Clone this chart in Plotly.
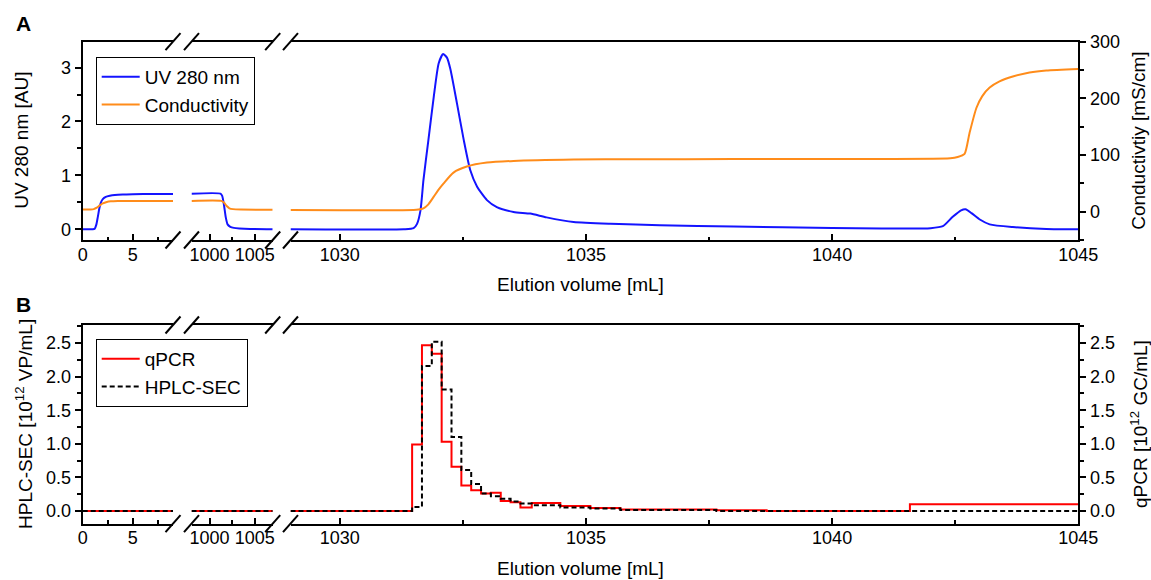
import plotly.graph_objects as go

W, H = 1151, 580

# ---------------- Panel A data ----------------
# segment 1 (0-9 mL)
uv_x1 = [0, 0.5, 1.0, 1.2, 1.35, 1.5, 1.65, 1.8, 2.0, 2.3, 2.7, 3.2, 4.0, 5.0, 7.0, 9.0]
uv_y1 = [0, 0, 0, 0.01, 0.08, 0.22, 0.38, 0.49, 0.56, 0.60, 0.62, 0.635, 0.645, 0.65, 0.655, 0.655]
cond_x1 = [0, 0.8, 1.1, 1.4, 1.7, 2.0, 2.4, 2.8, 3.5, 5.0, 9.0]
cond_y1 = [4, 4, 4.5, 7, 11, 14.5, 17, 18.2, 18.8, 19, 19]
# segment 2 (998-1007 mL)
uv_x2 = [998, 1001.2, 1001.4, 1001.6, 1001.8, 1002.0, 1002.3, 1002.7, 1003.3, 1004.5, 1007]
uv_y2 = [0.66, 0.66, 0.62, 0.45, 0.22, 0.09, 0.045, 0.025, 0.015, 0.005, 0.0]
cond_x2 = [998, 1001.3, 1001.6, 1001.9, 1002.2, 1002.6, 1003.5, 1007]
cond_y2 = [19, 19, 16, 10, 6, 4.5, 3.8, 3.5]
# segment 3 (1029-1045 mL)
uv_x3 = [1029, 1031.3, 1031.5, 1031.57, 1031.64, 1031.70, 1031.80, 1031.91, 1032.01, 1032.10,
         1032.18, 1032.25, 1032.38, 1032.52, 1032.65, 1032.79, 1032.99, 1033.19, 1033.53,
         1033.87, 1034.2, 1034.75, 1035.5, 1036.5, 1038.0, 1040.0, 1041.0, 1042.0, 1042.25,
         1042.45, 1042.62, 1042.71, 1042.83, 1043.0, 1043.2, 1043.67, 1044.35, 1045]
uv_y3 = [0, 0, 0.02, 0.1, 0.35, 0.91, 1.65, 2.46, 3.08, 3.25,
         3.18, 2.96, 2.34, 1.65, 1.10, 0.79, 0.54, 0.41, 0.32,
         0.29, 0.22, 0.135, 0.10, 0.075, 0.05, 0.025, 0.015, 0.02, 0.056,
         0.23, 0.35, 0.37, 0.30, 0.18, 0.09, 0.04, 0.005, 0.0]
cond_x3 = [1029, 1031.5, 1031.6, 1031.70, 1031.80, 1031.91, 1032.0, 1032.11, 1032.31, 1032.58,
           1032.99, 1033.53, 1034.75, 1036.0, 1038.0, 1040.0, 1042.4, 1042.55, 1042.69, 1042.79,
           1042.93, 1043.05, 1043.2, 1043.4, 1043.67, 1044.01, 1044.35, 1045]
cond_y3 = [3, 3, 3.8, 6, 13, 26.5, 38, 50, 69, 79.6,
           86.6, 89.6, 92.0, 92.5, 92.8, 93.0, 94.3, 96.5, 102, 138.6,
           183, 204, 219, 230, 238.6, 245.7, 249.3, 252]

# ---------------- Panel B data ----------------
step_x1 = [0, 9]
qpcr_y1 = [0, 0]
hplc_y1 = [0, 0]
step_x2 = [998, 1007]
qpcr_y2 = [0, 0]
hplc_y2 = [0, 0]
bin_edges = [1029, 1031.47, 1031.67, 1031.87, 1032.07, 1032.27, 1032.47, 1032.67, 1032.87,
             1033.07, 1033.27, 1033.47, 1033.67, 1033.9, 1034.48, 1035.09, 1035.7, 1037.65,
             1038.67, 1041.58, 1045]
qpcr_vals = [0, 0.99, 2.47, 2.34, 1.03, 0.66, 0.38, 0.31, 0.26, 0.27, 0.15, 0.13, 0.05,
             0.12, 0.075, 0.045, 0.02, 0.01, 0.0, 0.10]
hplc_vals = [0, 0.06, 2.16, 2.52, 1.81, 1.10, 0.61, 0.40, 0.26, 0.22, 0.18, 0.14, 0.11,
             0.085, 0.05, 0.035, 0.015, 0.0, 0.0, 0.0]

# ---------------- geometry ----------------
def pxx(p):
    return p / W

def pxy(p):
    return 1 - p / H

X_PIX = [(82.7, 173.0), (191.5, 272.7), (290.5, 1078.3)]
X_RANGES = [[0, 9], [998, 1007], [1029, 1045]]
A_TOP, A_BOT = 41.7, 240.0
B_TOP, B_BOT = 325.0, 523.7

FONT = "Liberation Sans, Arial, sans-serif"
BLUE = "#1414ff"
ORANGE = "#ff8c1a"
RED = "#ff0000"

fig = go.Figure()

# Panel A traces
for i, (xs, ys) in enumerate([(uv_x1, uv_y1), (uv_x2, uv_y2), (uv_x3, uv_y3)]):
    fig.add_trace(go.Scatter(x=xs, y=ys, mode="lines", name="UV 280 nm",
                             line=dict(color=BLUE, width=2, shape="spline", smoothing=0.6),
                             xaxis="x" if i == 0 else f"x{i+1}", yaxis="y",
                             legend="legend", showlegend=(i == 0)))
for i, (xs, ys) in enumerate([(cond_x1, cond_y1), (cond_x2, cond_y2), (cond_x3, cond_y3)]):
    fig.add_trace(go.Scatter(x=xs, y=ys, mode="lines", name="Conductivity",
                             line=dict(color=ORANGE, width=2, shape="spline", smoothing=0.6),
                             xaxis="x" if i == 0 else f"x{i+1}", yaxis="y2",
                             legend="legend", showlegend=(i == 0)))

# Panel B traces (qPCR on right axis y3, HPLC-SEC on left overlay axis y4 -> drawn on top)
qx3 = bin_edges
qy3 = qpcr_vals + [qpcr_vals[-1]]
hy3 = hplc_vals + [hplc_vals[-1]]
for i, (xs, ys) in enumerate([(step_x1, qpcr_y1), (step_x2, qpcr_y2), (qx3, qy3)]):
    fig.add_trace(go.Scatter(x=xs, y=ys, mode="lines", name="qPCR",
                             line=dict(color=RED, width=2, shape="hv"),
                             xaxis=f"x{i+4}", yaxis="y3",
                             legend="legend2", showlegend=(i == 0)))
for i, (xs, ys) in enumerate([(step_x1, hplc_y1), (step_x2, hplc_y2), (qx3, hy3)]):
    fig.add_trace(go.Scatter(x=xs, y=ys, mode="lines", name="HPLC-SEC",
                             line=dict(color="black", width=2, shape="hv", dash="5px,3px"),
                             xaxis=f"x{i+4}", yaxis="y4",
                             legend="legend2", showlegend=(i == 0)))

tickfont = dict(family=FONT, size=18, color="black")

def xaxis_cfg(k, anchor):
    a, b = X_PIX[k]
    return dict(domain=[pxx(a), pxx(b)], range=X_RANGES[k], anchor=anchor,
                showline=True, linecolor="black", linewidth=2, mirror=True,
                ticks="inside", ticklen=6, tickwidth=1.5, tickcolor="black",
                tick0=0, dtick=5, ticklabelstandoff=-3,
                minor=dict(ticks="inside", ticklen=3.5, tickwidth=1.5, tickcolor="black",
                           tick0=0, dtick=2.5),
                showgrid=False, zeroline=False, tickfont=tickfont, automargin=False)

def yaxis_cfg(dom, rng, dtick, mdtick, anchor, side="left", overlaying=None, fmt=None):
    d = dict(domain=dom, range=rng, anchor=anchor, side=side,
             showline=True, linecolor="black", linewidth=2,
             ticks="outside", ticklen=6, tickwidth=1.5, tickcolor="black",
             tick0=0, dtick=dtick,
             minor=dict(ticks="outside", ticklen=3.5, tickwidth=1.5, tickcolor="black",
                        tick0=0, dtick=mdtick),
             showgrid=False, zeroline=False, tickfont=tickfont, automargin=False)
    if overlaying:
        d["overlaying"] = overlaying
    if fmt:
        d["tickformat"] = fmt
    return d

domA = [pxy(A_BOT), pxy(A_TOP)]
domB = [pxy(B_BOT), pxy(B_TOP)]

legend_common = dict(xanchor="left", yanchor="top", bgcolor="white",
                     bordercolor="black", borderwidth=1, traceorder="normal",
                     itemwidth=38,
                     font=dict(family=FONT, size=19, color="black"), tracegroupgap=0)

layout = dict(
    width=W, height=H,
    margin=dict(l=0, r=0, t=0, b=0),
    paper_bgcolor="white", plot_bgcolor="white",
    font=dict(family=FONT, size=18, color="black"),
    xaxis=xaxis_cfg(0, "y"), xaxis2=xaxis_cfg(1, "y"), xaxis3=xaxis_cfg(2, "y"),
    xaxis4=xaxis_cfg(0, "y3"), xaxis5=xaxis_cfg(1, "y3"), xaxis6=xaxis_cfg(2, "y3"),
    yaxis=yaxis_cfg(domA, [-0.2, 3.48], 1, 0.5, "x"),
    yaxis2=yaxis_cfg(domA, [-50, 300], 100, 50, "x3", side="right", overlaying="y"),
    yaxis3=yaxis_cfg(domB, [-0.19, 2.77], 0.5, 0.25, "x6", side="right", fmt=".1f"),
    yaxis4=yaxis_cfg(domB, [-0.19, 2.77], 0.5, 0.25, "x4", side="left", overlaying="y3", fmt=".1f"),
    legend=dict(x=pxx(95.7), y=pxy(57), **legend_common),
    legend2=dict(x=pxx(95.7), y=pxy(339), **legend_common),
)
fig.update_layout(**layout)

# axis-break markers
shapes = []
for yline in [A_TOP, A_BOT, B_TOP, B_BOT]:
    for xb in [X_PIX[0][1], X_PIX[1][0], X_PIX[1][1], X_PIX[2][0]]:
        shapes.append(dict(type="line", xref="paper", yref="paper",
                           x0=pxx(xb - 7.5), y0=pxy(yline + 8.5),
                           x1=pxx(xb + 7.5), y1=pxy(yline - 8.5),
                           line=dict(color="black", width=2)))
fig.update_layout(shapes=shapes)

ann = []
def add_text(text, x, y, angle=0, size=19, bold=False):
    ann.append(dict(text=f"<b>{text}</b>" if bold else text, x=pxx(x), y=pxy(y),
                    xref="paper", yref="paper", showarrow=False, textangle=angle,
                    xanchor="center", yanchor="middle",
                    font=dict(family=FONT, size=size, color="black")))

add_text("A", 23, 24, size=21, bold=True)
add_text("B", 23, 304, size=21, bold=True)
add_text("Elution volume [mL]", 580.5, 284)
add_text("Elution volume [mL]", 580.5, 568)
add_text("UV 280 nm [AU]", 22, 140.8, angle=-90)
add_text("HPLC-SEC [10<sup>12</sup> VP/mL]", 24, 424, angle=-90)
add_text("Conductivtiy [mS/cm]", 1139, 140.8, angle=-90)
add_text("qPCR [10<sup>12</sup> GC/mL]", 1139, 424, angle=-90)
fig.update_layout(annotations=ann)

fig.write_html("out.html")
